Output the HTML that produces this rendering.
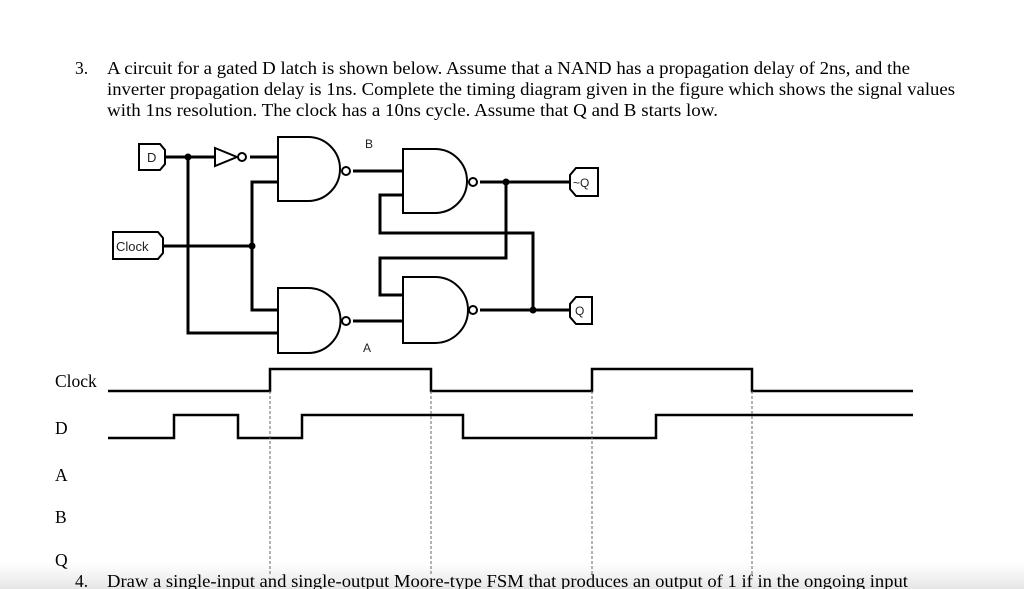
<!DOCTYPE html>
<html><head><meta charset="utf-8"><style>
html,body{margin:0;padding:0;background:#fff;}
svg{display:block;}
</style></head><body>
<svg width="1024" height="589" viewBox="0 0 1024 589" xmlns="http://www.w3.org/2000/svg">
<defs>
<linearGradient id="g" x1="0" y1="0" x2="0" y2="1">
<stop offset="0" stop-color="#fff"/><stop offset="1" stop-color="#e6e6e6"/>
</linearGradient>
</defs>
<rect x="0" y="563" width="1024" height="26" fill="url(#g)"/>
<g font-family="Liberation Serif, serif" font-size="17.5" fill="#000">
<text x="75" y="74">3.</text>
<text x="107" y="74" textLength="803" lengthAdjust="spacingAndGlyphs">A circuit for a gated D latch is shown below.  Assume that a NAND has a propagation delay of 2ns, and the</text>
<text x="107" y="95" textLength="848" lengthAdjust="spacingAndGlyphs">inverter propagation delay is 1ns.  Complete the timing diagram given in the figure which shows the signal values</text>
<text x="107" y="116" textLength="611" lengthAdjust="spacingAndGlyphs">with 1ns resolution.  The clock has a 10ns cycle.  Assume that Q and B starts low.</text>
<text x="55" y="387">Clock</text>
<text x="55" y="434">D</text>
<text x="55" y="481">A</text>
<text x="55" y="523">B</text>
<text x="55" y="566">Q</text>
<text x="75" y="587">4.</text>
<text x="107" y="587" textLength="801" lengthAdjust="spacingAndGlyphs">Draw a single-input and single-output Moore-type FSM that produces an output of 1 if in the ongoing input</text>
</g>
<!-- circuit -->
<g stroke="#000" stroke-width="3" fill="none">
<!-- wires -->
<polyline points="165,157 215,157"/>
<polyline points="250,157 278,157"/>
<polyline points="188,157 188,333 278,333"/>
<polyline points="163,246 252,246"/>
<polyline points="278,182 252,182 252,310 278,310"/>
<polyline points="353,171 403,171"/>
<polyline points="353,321 403,321"/>
<polyline points="480,182 570,182"/>
<polyline points="480,310 570,310"/>
<polyline points="403,195 380,195 380,233 533,233 533,310"/>
<polyline points="506,182 506,258 380,258 380,295 403,295"/>
</g>
<g stroke="#000" stroke-width="2" fill="#fff">
<!-- gates -->
<path d="M278,137 L308,137 A32,32 0 0 1 308,201 L278,201 Z"/>
<path d="M278,288 L308,288 A32.5,32.5 0 0 1 308,353 L278,353 Z"/>
<path d="M403,149 L435,149 A32,32 0 0 1 435,213 L403,213 Z"/>
<path d="M403,277 L435,277 A33,33 0 0 1 435,343 L403,343 Z"/>
<circle cx="346" cy="171" r="4"/>
<circle cx="346" cy="321" r="4"/>
<circle cx="473" cy="182" r="4"/>
<circle cx="473" cy="310" r="4"/>
<path d="M215,148 L237,157 L215,166 Z"/>
<circle cx="242" cy="157" r="4"/>
<!-- boxes -->
<path d="M139,144 L160,144 L165,150 L165,164 L160,170 L139,170 Z"/>
<path d="M113,232 L158,232 L163,238 L163,253 L158,259 L113,259 Z"/>
<path d="M576,168 L598,168 L598,196 L576,196 L570,189 L570,175 Z"/>
<path d="M576,297 L592,297 L592,324 L576,324 L570,317 L570,304 Z"/>
</g>
<g fill="#000">
<circle cx="188" cy="157" r="3.5"/>
<circle cx="252" cy="246" r="3.5"/>
<circle cx="506" cy="182" r="3.5"/>
<circle cx="533" cy="310" r="3.5"/>
</g>
<g font-family="Liberation Sans, sans-serif" font-size="13" fill="#222">
<text x="147" y="162">D</text>
<text x="116" y="251">Clock</text>
<text x="573" y="187" font-size="12">~Q</text>
<text x="575" y="315" font-size="12">Q</text>
<text x="365" y="148" font-size="12">B</text>
<text x="363" y="352" font-size="12">A</text>
</g>
<!-- timing -->
<g stroke="#000" stroke-width="2.5" fill="none">
<polyline points="108,391 270,391 270,369 431,369 431,391 592,391 592,369 752,369 752,391 913,391"/>
<polyline points="108,438 174,438 174,415 238,415 238,438 302,438 302,415 463,415 463,438 656,438 656,415 913,415"/>
</g>
<g stroke="#666" stroke-width="1" stroke-dasharray="3,2">
<line x1="270" y1="391" x2="270" y2="575"/>
<line x1="431" y1="391" x2="431" y2="575"/>
<line x1="592" y1="391" x2="592" y2="575"/>
<line x1="752" y1="391" x2="752" y2="575"/>
</g>
</svg>
</body></html>
